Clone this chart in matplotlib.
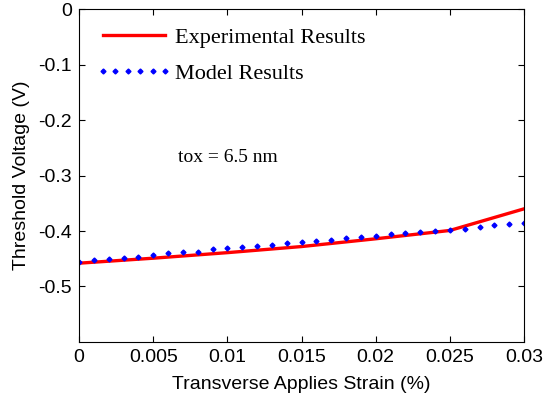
import matplotlib
matplotlib.use('Agg')
import matplotlib.pyplot as plt
import numpy as np

plt.rcParams['axes.unicode_minus'] = False

# experimental results (red line)
strain_exp = [0, 0.005, 0.01, 0.015, 0.02, 0.025, 0.03]
vth_exp = [-0.458, -0.449, -0.439, -0.428, -0.414, -0.399, -0.36]

# model results (blue dots), every 0.001
strain_model = [0, 0.001, 0.002, 0.003, 0.004, 0.005, 0.006, 0.007, 0.008, 0.009,
                0.010, 0.011, 0.012, 0.013, 0.014, 0.015, 0.016, 0.017, 0.018, 0.019,
                0.020, 0.021, 0.022, 0.023, 0.024, 0.025, 0.026, 0.027, 0.028, 0.029, 0.030]
vth_model = [-0.455, -0.452, -0.450, -0.448, -0.447, -0.443, -0.440, -0.438, -0.437, -0.433,
             -0.431, -0.429, -0.427, -0.425, -0.422, -0.420, -0.418, -0.416, -0.413, -0.411,
             -0.409, -0.406, -0.403, -0.401, -0.400, -0.398, -0.396, -0.392, -0.390, -0.388,
             -0.386]

xticks = [0, 0.005, 0.01, 0.015, 0.02, 0.025, 0.03]
xticklabels = ['0', '0.005', '0.01', '0.015', '0.02', '0.025', '0.03']
yticks = [0, -0.1, -0.2, -0.3, -0.4, -0.5]
yticklabels = ['0', '-0.1', '-0.2', '-0.3', '-0.4', '-0.5']

fig = plt.figure(figsize=(5.45, 3.99), dpi=100)
ax = fig.add_axes([0.145, 0.143, 0.8165, 0.834])

ax.plot(strain_exp, vth_exp, color='red', lw=2.4, label='Experimental Results')
ax.plot(strain_model, vth_model, ls='none', marker='D', ms=2.5, color='blue',
        label='Model Results')

ax.set_xlim(0, 0.03)
ax.set_ylim(-0.6, 0)
ax.set_xticks(xticks)
ax.set_xticklabels(xticklabels, fontsize=14, family='Liberation Sans')
ax.set_yticks(yticks)
ax.set_yticklabels(yticklabels, fontsize=14, family='Liberation Sans')
ax.tick_params(direction='in', top=True, right=True, length=4, width=0.8, pad=5)

ax.set_xlabel('Transverse Applies Strain (%)', fontsize=14, family='Liberation Sans', labelpad=7)
ax.set_ylabel('Threshold Voltage (V)', fontsize=14, family='Liberation Sans', labelpad=6)

ax.text(0.0067, -0.267, 'tox = 6.5 nm', fontsize=14, family='Liberation Serif', va='center')

ax.legend(loc='upper left', bbox_to_anchor=(-0.006, 1.005), frameon=False, numpoints=6,
          handlelength=3.4, handletextpad=0.13, labelspacing=0.7,
          prop={'family': 'Liberation Serif', 'size': 16})

fig.savefig('out.png', dpi=100)
